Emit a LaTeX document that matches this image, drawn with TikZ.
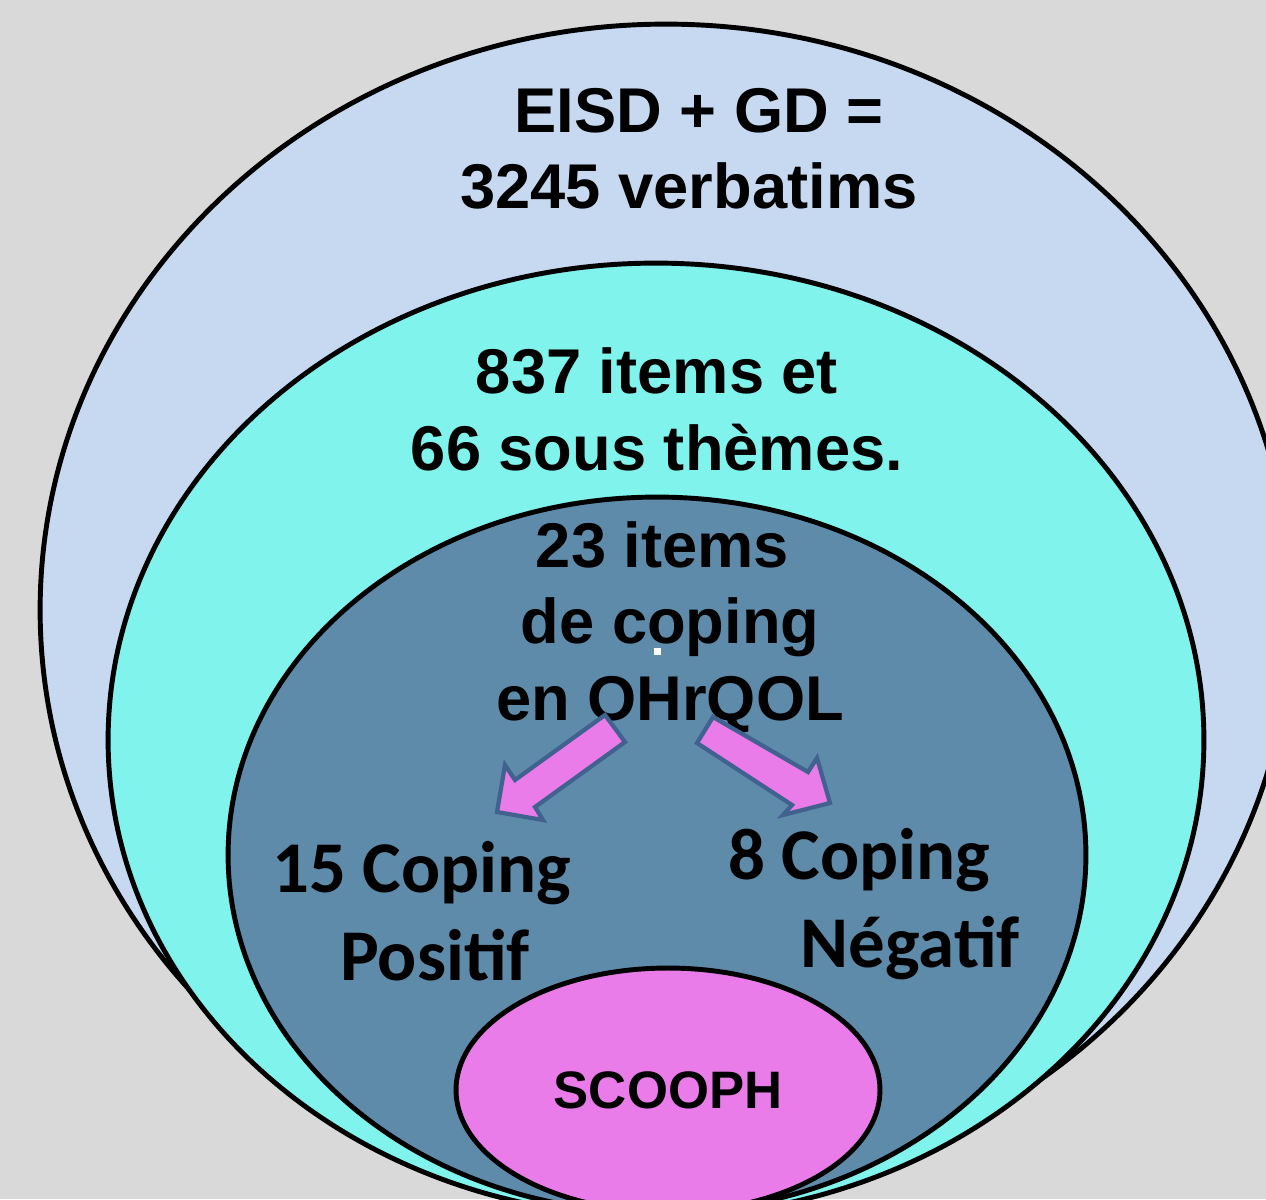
\documentclass[tikz,border=0pt]{standalone}
\usepackage{fontspec}
\setmainfont{Liberation Sans}
\newfontfamily\calibri{Carlito}
\usepackage{tikz}
\usetikzlibrary{shapes.geometric}

\definecolor{fondgris}{HTML}{D9D9D9}
\definecolor{bleuclair}{HTML}{C6D9F1}
\definecolor{turquoise}{HTML}{80F3EC}
\definecolor{bleuacier}{HTML}{5F8BAB}
\definecolor{rose}{HTML}{EA7CE9}
\definecolor{bordfleche}{HTML}{41628F}

\tikzset{
  zone/.style={ellipse, draw=black, line width=2.8pt, inner sep=0pt},
  titre/.style={font=\bfseries\fontsize{36}{43.5}\selectfont, align=center, anchor=base, inner sep=0pt},
  copingtxt/.style={font=\calibri\bfseries\fontsize{41.5}{50}\selectfont, align=left, anchor=base west, inner sep=0pt},
  fleche/.style={fill=rose, draw=bordfleche, line width=2.4pt, line join=miter}
}

\begin{document}
\begin{tikzpicture}[x=0.02cm, y=-0.02cm]
\useasboundingbox (0,0) rectangle (1266,1199);
\clip (0,0) rectangle (1266,1199);
\fill[fondgris] (0,0) rectangle (1266,1199);

% les zones
\node[zone, fill=bleuclair, minimum width=25.04cm, minimum height=23.44cm] (eisd) at (666,610) {};
\node[zone, fill=turquoise, minimum width=21.92cm, minimum height=19.08cm] (items) at (656,740) {};
\node[zone, fill=bleuacier, minimum width=17.16cm, minimum height=14.32cm] (coping) at (657,855) {};
\node[zone, fill=rose, minimum width=8.48cm, minimum height=4.88cm] (scooph) at (668,1090) {};

% les textes (base = derniere ligne)
\node[titre] (verbatims) at (689,209) {\hspace*{0.4cm}EISD + GD =\\3245 verbatims};
\node[titre] (themes) at (657,470) {837 items et\\66 sous thèmes.};
\node[titre] (ohrqol) at (670,720) {23 items\hspace*{0.3cm}\\de coping\\en OHrQOL};
\fill[white] (654,648) rectangle (661,655);
\node[copingtxt] (positif) at (272,980) {15 Coping\\\hspace*{1.36cm}Positif};
\node[copingtxt] (negatif) at (728,967) {8 Coping\\\hspace*{1.45cm}Négatif};
\node[font=\bfseries\fontsize{30}{36}\selectfont, inner sep=0pt] (scoophtxt) at (scooph) {SCOOPH};

% les fleches
\draw[fleche] (605,715) -- (625,742) -- (535,807) -- (543,820) -- (497,812) -- (505,765) -- (515,780) -- cycle;
\draw[fleche] (713,717) -- (808,772) -- (817,758) -- (830,803) -- (783,815) -- (792,805) -- (697,743) -- cycle;
\end{tikzpicture}
\end{document}
